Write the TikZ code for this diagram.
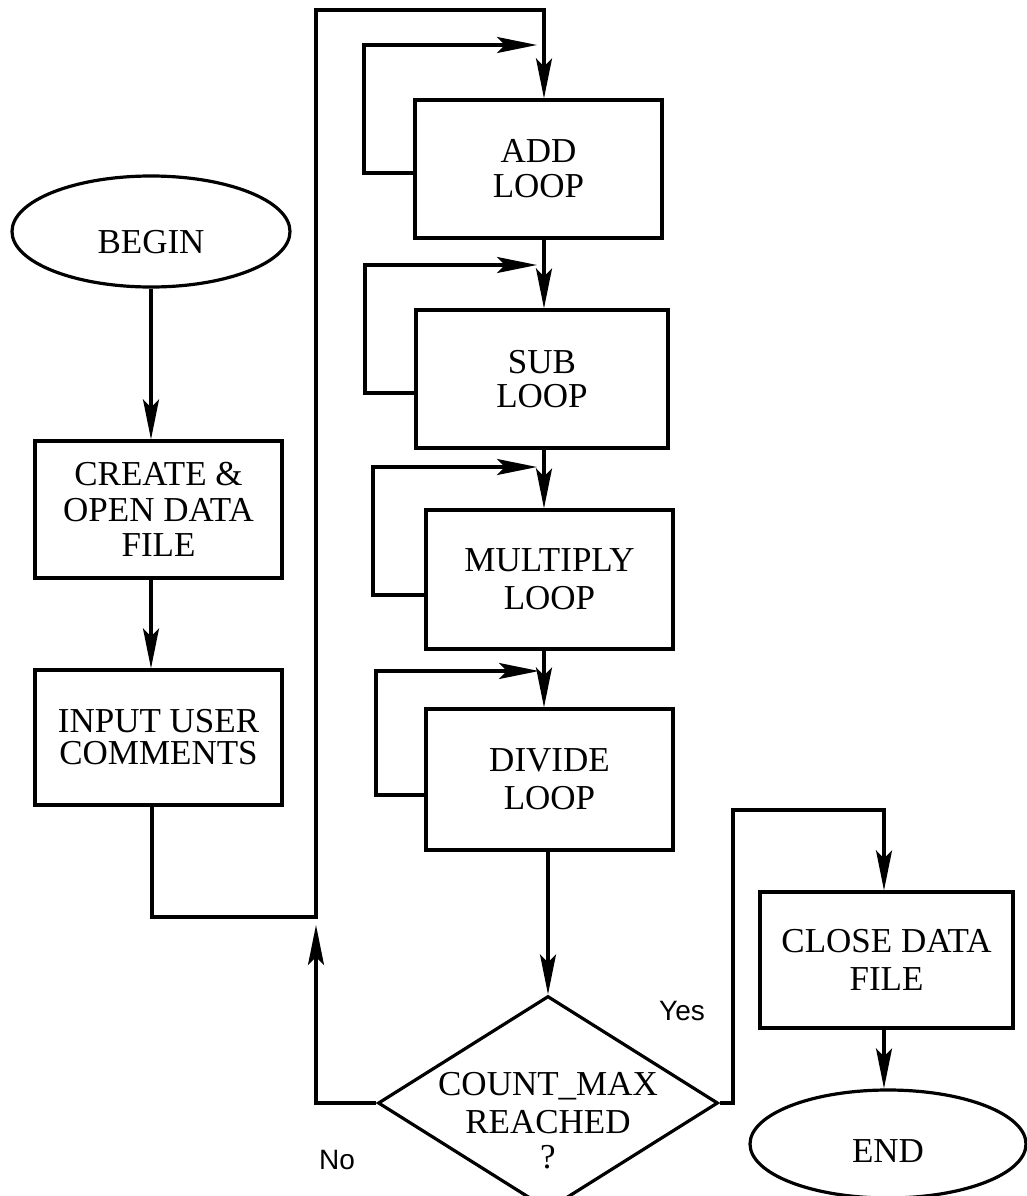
\documentclass[tikz,border=0pt]{standalone}
\usepackage{fontspec}
\setmainfont{Liberation Serif}
\newfontfamily\labelfont{Liberation Sans}
\usetikzlibrary{arrows.meta,shapes.geometric}

\begin{document}
\begin{tikzpicture}[x=1pt,y=-1pt,
  line width=3.2pt,
  every node/.style={font=\fontsize{35}{38}\selectfont},
  flowbox/.style={draw, rectangle, inner sep=0pt, align=center},
  terminal/.style={draw, ellipse, inner sep=0pt, text depth=0pt},
  decision/.style={draw, diamond, inner sep=0pt, minimum width=340pt, minimum height=214pt},
  branch/.style={font=\labelfont\fontsize{28}{32}\selectfont},
  flow/.style={-{Stealth[length=40pt,width=16pt,inset=8pt]}}
]
\useasboundingbox (0,0) rectangle (1026,1196);

% left column: start, file set-up, comments
\node[terminal, minimum width=278pt, minimum height=111pt, text height=44pt] (begin) at (151,231.5) {BEGIN};
\node[flowbox, minimum width=247pt, minimum height=137pt] (create) at (158.5,509.5) {CREATE \&\\[-2pt]OPEN DATA\\[-3pt]FILE};
\node[flowbox, minimum width=247pt, minimum height=135pt] (input) at (158.5,737.5) {INPUT USER\\[-6pt]COMMENTS};

% middle column: the four arithmetic loops
\node[flowbox, minimum width=247pt, minimum height=138pt] (add) at (538.5,169) {ADD\\[-3pt]LOOP};
\node[flowbox, minimum width=252pt, minimum height=138pt] (sub) at (542,379) {SUB\\[-4pt]LOOP};
\node[flowbox, minimum width=247pt, minimum height=139pt] (mult) at (549.5,579.5) {MULTIPLY\\LOOP};
\node[flowbox, minimum width=247pt, minimum height=141pt] (div) at (549.5,779.5) {DIVIDE\\LOOP};

% decision
\node[decision] (dec) at (548,1103) {};
\node[align=center] (dectext) at (548,1121) {COUNT\_MAX\\REACHED\\[-3pt]?};

% right column: shut-down
\node[flowbox, minimum width=253pt, minimum height=136pt] (close) at (886.5,960) {CLOSE DATA\\FILE};
\node[terminal, minimum width=276pt, minimum height=108pt, text height=36pt] (end) at (888,1144) {END};

% branch labels
\node[branch] (yes) at (682,1011) {Yes};
\node[branch] (no) at (337,1160) {No};

% routing points
\coordinate (lcol) at (151,0);
\coordinate (spine) at (544,0);
\coordinate (rcol) at (884,0);
\coordinate (retA) at (152,917);
\coordinate (retB) at (316,917);
\coordinate (retC) at (316,10);
\coordinate (retD) at (544,10);
\coordinate (yesA) at (733,1103);
\coordinate (yesB) at (733,810);

\coordinate (addL1) at (364,173); \coordinate (addL2) at (364,45);  \coordinate (addL3) at (537,45);
\coordinate (subL1) at (365,393); \coordinate (subL2) at (365,265); \coordinate (subL3) at (537,265);
\coordinate (mulL1) at (373,595); \coordinate (mulL2) at (373,467); \coordinate (mulL3) at (537,467);
\coordinate (divL1) at (376,795); \coordinate (divL2) at (376,671); \coordinate (divL3) at (539,671);

% main flow
\draw[flow] (lcol |- begin.south) -- (lcol |- create.north);
\draw[flow] (lcol |- create.south) -- (lcol |- input.north);
\draw[flow] (retA |- input.south) -- (retA) -- (retB) -- (retC) -- (retD) -- (spine |- add.north);
\draw[flow] (spine |- add.south) -- (spine |- sub.north);
\draw[flow] (spine |- sub.south) -- (spine |- mult.north);
\draw[flow] (spine |- mult.south) -- (spine |- div.north);
\draw[flow] (dec.north |- div.south) -- (dec.north);

% loop-backs on each arithmetic block
\draw[flow] (add.west |- addL1) -- (addL1) -- (addL2) -- (addL3);
\draw[flow] (sub.west |- subL1) -- (subL1) -- (subL2) -- (subL3);
\draw[flow] (mult.west |- mulL1) -- (mulL1) -- (mulL2) -- (mulL3);
\draw[flow] (div.west |- divL1) -- (divL1) -- (divL2) -- (divL3);

% decision branches
\draw[flow] (dec.west) -- (dec.west -| retB) -- ([yshift=-8pt]retB);
\draw[flow] (dec.east) -- (yesA) -- (yesB) -- (rcol |- yesB) -- (rcol |- close.north);
\draw[flow] (rcol |- close.south) -- (rcol |- end.north);
\end{tikzpicture}
\end{document}
